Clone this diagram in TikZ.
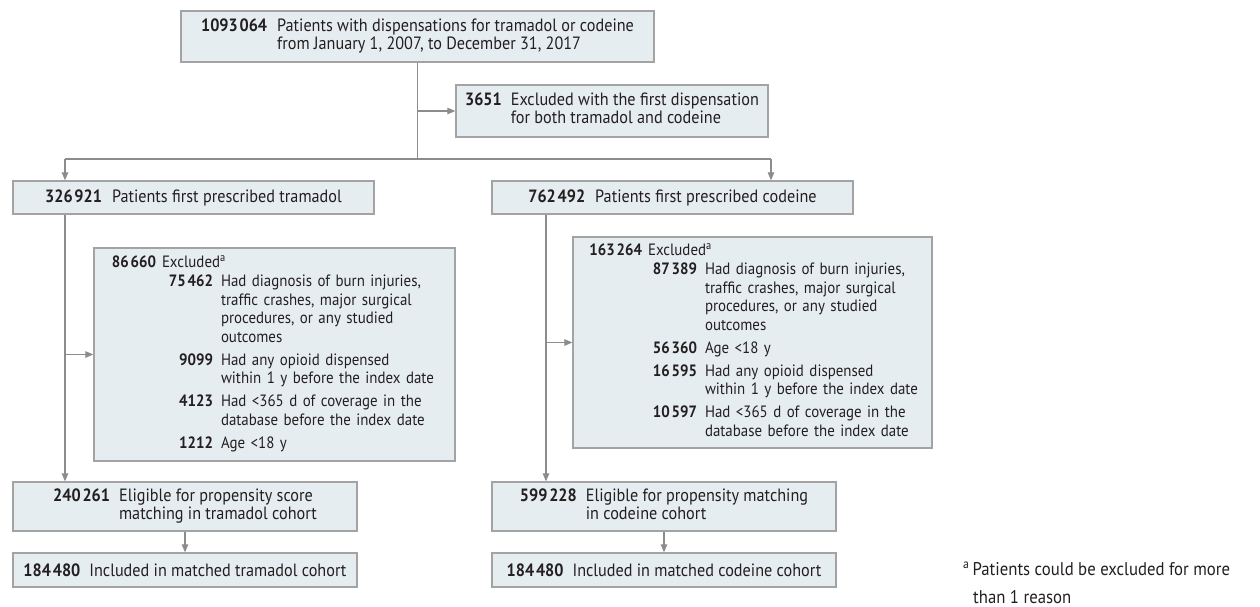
\documentclass[tikz,border=0pt]{standalone}
\usepackage{fontspec}
\setmainfont{PT Sans}[FakeStretch=0.91]
\usetikzlibrary{arrows.meta,calc}
\definecolor{boxfill}{HTML}{E6EDF1}
\definecolor{boxline}{HTML}{A3A3A3}
\definecolor{connc}{HTML}{8C8C8C}
\definecolor{ink}{HTML}{231F20}
\newcommand\ts{\hspace{1.8pt}}
\newcommand\nb[1]{\textbf{#1}}
\begin{document}
\begin{tikzpicture}[x=1pt,y=-1pt,
  box/.style={draw=boxline, fill=boxfill, line width=1.3pt, inner sep=0pt, text=ink,
    font=\fontsize{17.8}{17.6}\selectfont},
  exbox/.style={box, inner xsep=12pt, align=left, font=\fontsize{16.4}{18.5}\selectfont},
  conn/.style={draw=connc, line width=1.2pt},
  arr/.style={conn, -{Triangle[length=8pt,width=6.5pt]}},
]
\useasboundingbox (0,0) rectangle (1260,607);

\node[box, minimum width=473, minimum height=51] (top) at (417.5,36.5)
  {\begin{tabular}{@{}r@{\hspace{10pt}}l@{}}
   \nb{1093\ts064} & Patients with dispensations for tramadol or codeine\\
   & from January 1, 2007, to December 31, 2017
   \end{tabular}};

\node[box, minimum width=312, minimum height=52] (ex0) at (612,111)
  {\begin{tabular}{@{}r@{\hspace{9pt}}l@{}}
   \nb{3651} & Excluded with the first dispensation\\
   & for both tramadol and codeine
   \end{tabular}};

\node[box, minimum width=361, minimum height=33] (tram) at (193.5,197.5)
  {\nb{326\ts921}\hspace{10pt}Patients first prescribed tramadol};
\node[box, minimum width=361, minimum height=33] (cod) at (672.5,197.5)
  {\nb{762\ts492}\hspace{10pt}Patients first prescribed codeine};

\node[exbox, text width=337, minimum height=213] (ex1) at (274.5,354.5)
  {\begin{tabular}{@{}l@{\hspace{8pt}}l@{}}
   \multicolumn{2}{@{}l@{}}{\makebox[50pt][r]{\nb{86\ts660}}\hspace{6pt}Excluded\textsuperscript{a}}\\[0.5pt]
   \makebox[107pt][r]{\nb{75\ts462}} & Had diagnosis of burn injuries,\\
   & traffic crashes, major surgical\\
   & procedures, or any studied\\
   & outcomes\\[4.5pt]
   \makebox[107pt][r]{\nb{9099}} & Had any opioid dispensed\\
   & within 1 y before the index date\\[4.5pt]
   \makebox[107pt][r]{\nb{4123}} & Had <365 d of coverage in the\\
   & database before the index date\\[4.5pt]
   \makebox[107pt][r]{\nb{1212}} & Age <18 y
   \end{tabular}};

\node[exbox, text width=335, minimum height=211] (ex2) at (752.5,342.5)
  {\begin{tabular}{@{}l@{\hspace{8pt}}l@{}}
   \multicolumn{2}{@{}l@{}}{\makebox[57pt][r]{\nb{163\ts264}}\hspace{6pt}Excluded\textsuperscript{a}}\\[0.5pt]
   \makebox[112pt][r]{\nb{87\ts389}} & Had diagnosis of burn injuries,\\
   & traffic crashes, major surgical\\
   & procedures, or any studied\\
   & outcomes\\[4.5pt]
   \makebox[112pt][r]{\nb{56\ts360}} & Age <18 y\\[4.5pt]
   \makebox[112pt][r]{\nb{16\ts595}} & Had any opioid dispensed\\
   & within 1 y before the index date\\[4.5pt]
   \makebox[112pt][r]{\nb{10\ts597}} & Had <365 d of coverage in the\\
   & database before the index date
   \end{tabular}};

\node[box, minimum width=344, minimum height=49] (el1) at (185,506.5)
  {\begin{tabular}{@{}r@{\hspace{9pt}}l@{}}
   \nb{240\ts261} & Eligible for propensity score\\
   & matching in tramadol cohort
   \end{tabular}};
\node[box, minimum width=344, minimum height=49] (el2) at (664,506.5)
  {\begin{tabular}{@{}r@{\hspace{9pt}}l@{}}
   \nb{599\ts228} & Eligible for propensity matching\\
   & in codeine cohort
   \end{tabular}};

\node[box, minimum width=344, minimum height=34] (inc1) at (185,570)
  {\nb{184\ts480}\hspace{9pt}Included in matched tramadol cohort};
\node[box, minimum width=344, minimum height=34] (inc2) at (664,570)
  {\nb{184\ts480}\hspace{9pt}Included in matched codeine cohort};

\node[anchor=north west, inner sep=0pt, text=ink, align=left,
  font=\fontsize{18.4}{28}\selectfont] (fn) at (963,562)
  {\textsuperscript{a}\,Patients could be excluded for more\\
   \hspace{10pt}than 1 reason};

% connectors
\coordinate (split) at (417.5,159);
\coordinate (bl) at (65,159);
\coordinate (br) at (771,159);
\coordinate (cl) at (546,214);
\draw[conn] (top.south) -- (split);
\draw[arr] (top.south |- ex0.west) -- (ex0.west);
\draw[conn] (bl) -- (br);
\draw[arr] (bl) -- (bl |- tram.north);
\draw[arr] (br) -- (br |- cod.north);
\draw[arr] (bl |- tram.south) -- (bl |- el1.north);
\draw[arr] (bl |- ex1.west) -- (ex1.west);
\draw[arr] (cl |- cod.south) -- (cl |- el2.north);
\draw[arr] (cl |- ex2.west) -- (ex2.west);
\draw[arr] (el1.south) -- (inc1.north);
\draw[arr] (el2.south) -- (inc2.north);
\end{tikzpicture}
\end{document}
